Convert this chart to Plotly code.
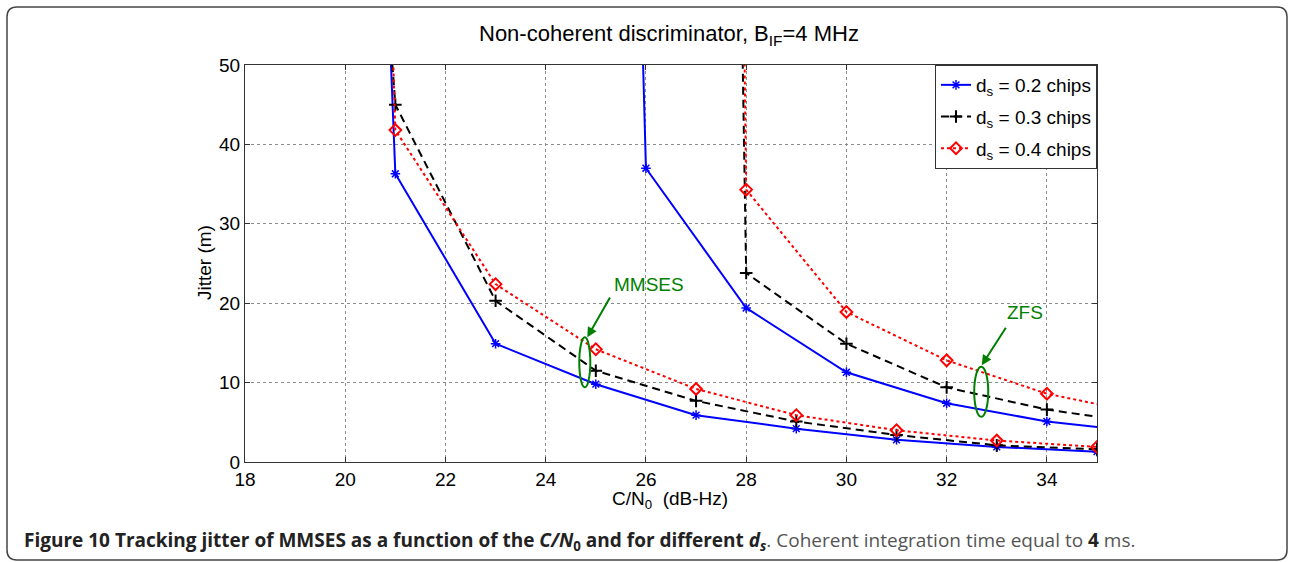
import plotly.graph_objects as go

# ---- data: tracking jitter (m) versus C/N0 (dB-Hz) ----
# MMSES discriminator
cn0_mmses_02 = [20.85, 21, 23, 25, 27, 29, 31, 33, 35]
jit_mmses_02 = [60.0, 36.3, 14.9, 9.8, 5.9, 4.2, 2.8, 1.9, 1.3]
cn0_mmses_03 = [20.88, 21, 23, 25, 27, 29, 31, 33, 35]
jit_mmses_03 = [55.0, 45.0, 20.3, 11.5, 7.7, 5.1, 3.4, 2.1, 1.6]
cn0_mmses_04 = [20.92, 21, 23, 25, 27, 29, 31, 33, 35]
jit_mmses_04 = [58.0, 41.8, 22.4, 14.2, 9.2, 5.9, 4.0, 2.7, 1.9]

# ZFS discriminator
cn0_zfs_02 = [25.9, 26, 28, 30, 32, 34, 36]
jit_zfs_02 = [60.0, 37.0, 19.4, 11.3, 7.4, 5.1, 3.7]
cn0_zfs_03 = [27.9, 28, 30, 32, 34, 36]
jit_zfs_03 = [62.0, 23.8, 14.9, 9.4, 6.6, 4.8]
cn0_zfs_04 = [27.95, 28, 30, 32, 34, 36]
jit_zfs_04 = [60.0, 34.3, 18.9, 12.8, 8.6, 6.0]

legend_names = ["d<sub>s</sub> = 0.2 chips", "d<sub>s</sub> = 0.3 chips", "d<sub>s</sub> = 0.4 chips"]

x_ticks = [18, 20, 22, 24, 26, 28, 30, 32, 34]
y_ticks = [0, 10, 20, 30, 40, 50]

# ---- figure geometry (pixels) ----
W, H = 1290, 562
L, R, T, B = 245, 1097, 65, 462


def px(x):
    return (x - L) / (R - L)


def py(y):
    return (B - y) / (B - T)


FONT = "Liberation Sans, Arial, sans-serif"
GREEN = "#008000"

styles = [
    dict(color="#0000ff", dash="solid", symbol="asterisk-open", size=8, mlw=1.5),
    dict(color="#000000", dash="8px,5px", symbol="cross-thin-open", size=9, mlw=2),
    dict(color="#ff0000", dash="3px,3px", symbol="diamond-open", size=9, mlw=2),
]

series = [
    (cn0_mmses_02, jit_mmses_02, cn0_zfs_02, jit_zfs_02),
    (cn0_mmses_03, jit_mmses_03, cn0_zfs_03, jit_zfs_03),
    (cn0_mmses_04, jit_mmses_04, cn0_zfs_04, jit_zfs_04),
]

fig = go.Figure()
for i, (xm, ym, xz, yz) in enumerate(series):
    st = styles[i]
    for k, (xs, ys) in enumerate([(xm, ym), (xz, yz)]):
        fig.add_trace(go.Scatter(
            x=xs, y=ys, mode="lines+markers",
            name=legend_names[i], legendgroup=f"g{i}", showlegend=(k == 0),
            line=dict(color=st["color"], width=2, dash=st["dash"]),
            marker=dict(symbol=st["symbol"], size=st["size"], color=st["color"],
                        line=dict(color=st["color"], width=st["mlw"])),
            cliponaxis=True,
        ))

axis_common = dict(
    showline=True, linecolor="#333333", linewidth=1, mirror="ticks",
    ticks="inside", ticklen=5, tickcolor="#333333",
    showgrid=True, gridcolor="#8c8c8c", griddash="dot", gridwidth=1,
    zeroline=False, tickfont=dict(family=FONT, size=19, color="#000000"),
)

fig.update_xaxes(range=[18, 35], tickvals=x_ticks, **axis_common)
fig.update_yaxes(range=[0, 50], tickvals=y_ticks, **axis_common)

# selection ellipses around the two families of curves
fig.add_shape(type="circle", xref="x", yref="y", x0=24.67, x1=24.89, y0=9.4, y1=15.7,
              line=dict(color=GREEN, width=2))
fig.add_shape(type="circle", xref="x", yref="y", x0=32.55, x1=32.83, y0=5.7, y1=12.0,
              line=dict(color=GREEN, width=2))

# rounded frame around the figure and its caption
r = 10
fx0, fx1, fy0, fy1 = 7, 1287, 7, 560
frame = (
    f"M {px(fx0 + r)},{py(fy0)} L {px(fx1 - r)},{py(fy0)} "
    f"Q {px(fx1)},{py(fy0)} {px(fx1)},{py(fy0 + r)} "
    f"L {px(fx1)},{py(fy1 - r)} Q {px(fx1)},{py(fy1)} {px(fx1 - r)},{py(fy1)} "
    f"L {px(fx0 + r)},{py(fy1)} Q {px(fx0)},{py(fy1)} {px(fx0)},{py(fy1 - r)} "
    f"L {px(fx0)},{py(fy0 + r)} Q {px(fx0)},{py(fy0)} {px(fx0 + r)},{py(fy0)} Z"
)
fig.add_shape(type="path", xref="paper", yref="paper", path=frame,
              line=dict(color="#444444", width=1.5))

annotations = [
    # title
    dict(x=px(669), y=py(35), xref="paper", yref="paper", showarrow=False,
         xanchor="center", yanchor="middle",
         text="Non-coherent discriminator, B<sub>IF</sub>=4 MHz",
         font=dict(family=FONT, size=22, color="#000000")),
    # axis titles
    dict(x=px(670), y=py(486), xref="paper", yref="paper", showarrow=False,
         xanchor="center", yanchor="top",
         text="C/N<sub>0</sub>  (dB-Hz)", font=dict(family=FONT, size=19, color="#000000")),
    dict(x=px(204), y=py(263), xref="paper", yref="paper", showarrow=False, textangle=-90,
         xanchor="center", yanchor="middle",
         text="Jitter (m)", font=dict(family=FONT, size=19, color="#000000")),
    # curve family labels
    dict(x=26.06, y=22.3, xref="x", yref="y", showarrow=False, text="MMSES",
         xanchor="center", yanchor="middle",
         font=dict(family=FONT, size=19, color=GREEN)),
    dict(x=24.83, y=15.7, ax=25.3, ay=20.9, xref="x", yref="y", axref="x", ayref="y",
         text="", showarrow=True, arrowhead=2, arrowsize=1, arrowwidth=2, arrowcolor=GREEN),
    dict(x=33.56, y=18.8, xref="x", yref="y", showarrow=False, text="ZFS",
         xanchor="center", yanchor="middle",
         font=dict(family=FONT, size=19, color=GREEN)),
    dict(x=32.7, y=12.2, ax=33.2, ay=17.1, xref="x", yref="y", axref="x", ayref="y",
         text="", showarrow=True, arrowhead=2, arrowsize=1, arrowwidth=2, arrowcolor=GREEN),
    # caption
    dict(x=px(22), y=py(541), xref="paper", yref="paper", xanchor="left", yanchor="middle",
         showarrow=False,
         text=("<b>Figure 10 Tracking jitter of MMSES as a function of the <i>C/N</i><sub>0</sub> "
               "and for different <i>d<sub>s</sub></i></b>"
               "<span style='color:#555555'>. Coherent integration time equal to </span>"
               "<b>4</b><span style='color:#555555'> ms.</span>"),
         font=dict(family="Open Sans, sans-serif", size=19, color="#222222")),
]

fig.update_layout(
    width=W, height=H,
    margin=dict(l=L, r=W - R, t=T, b=H - B, pad=0),
    paper_bgcolor="#ffffff", plot_bgcolor="#ffffff",
    showlegend=True,
    legend=dict(x=1, y=1, xanchor="right", yanchor="top",
                bgcolor="#ffffff", bordercolor="#333333", borderwidth=1,
                font=dict(family=FONT, size=19, color="#000000"),
                tracegroupgap=4),
    annotations=annotations,
)

fig.write_html("out.html")
